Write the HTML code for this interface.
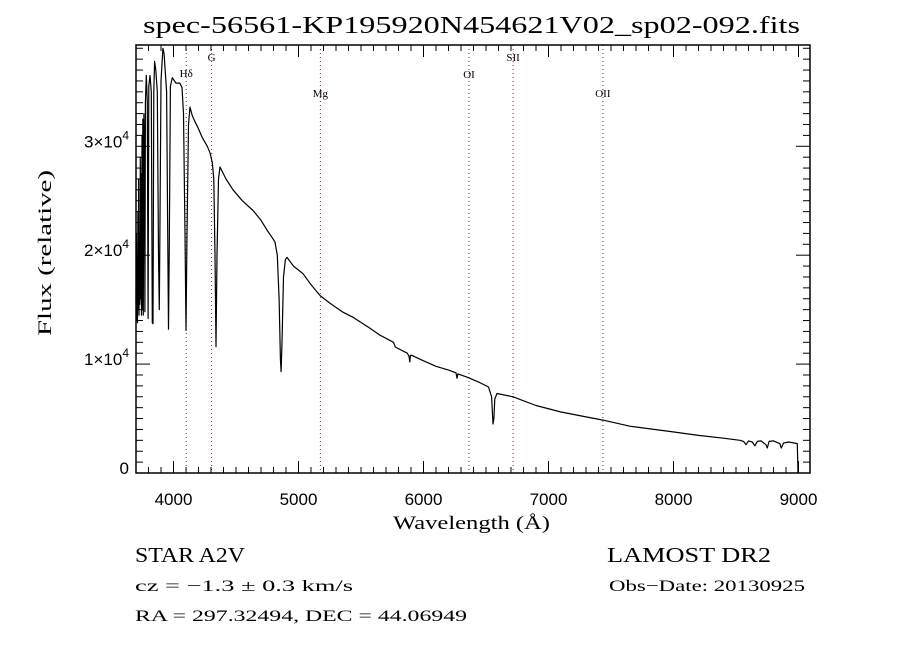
<!DOCTYPE html>
<html><head><meta charset="utf-8"><style>
html,body{margin:0;padding:0;background:#fff;}
svg{display:block;}
text{fill:#000;}
</style></head><body>
<svg id="chart" width="900" height="650" viewBox="0 0 900 650" xmlns="http://www.w3.org/2000/svg">
<rect x="0" y="0" width="900" height="650" fill="#fff"/>
<text x="143" y="33" font-family="Liberation Serif, serif" font-size="24" textLength="657" lengthAdjust="spacingAndGlyphs">spec-56561-KP195920N454621V02_sp02-092.fits</text>
<g id="lines"></g>
<g id="ticks"></g>
<path id="spec" fill="none" stroke="#000" stroke-width="1.2" stroke-linejoin="round"/>
<rect x="136" y="45" width="674" height="428" fill="none" stroke="#000" stroke-width="1.5"/>
<g id="xlab"></g>
<g id="ylab"></g>
<text x="393" y="529" font-family="Liberation Serif, serif" font-size="19" textLength="157" lengthAdjust="spacingAndGlyphs">Wavelength (Å)</text>
<text transform="translate(51,336) rotate(-90)" font-family="Liberation Serif, serif" font-size="19" textLength="166" lengthAdjust="spacingAndGlyphs">Flux (relative)</text>
<text x="135" y="562" font-family="Liberation Serif, serif" font-size="21" textLength="110" lengthAdjust="spacingAndGlyphs">STAR    A2V</text>
<text x="607" y="562" font-family="Liberation Serif, serif" font-size="21" textLength="164" lengthAdjust="spacingAndGlyphs">LAMOST DR2</text>
<text x="135" y="591" font-family="Liberation Serif, serif" font-size="16" textLength="218" lengthAdjust="spacingAndGlyphs">cz = −1.3 ± 0.3 km/s</text>
<text x="609" y="591" font-family="Liberation Serif, serif" font-size="16" textLength="196" lengthAdjust="spacingAndGlyphs">Obs−Date: 20130925</text>
<text x="135" y="621" font-family="Liberation Serif, serif" font-size="16" textLength="332" lengthAdjust="spacingAndGlyphs">RA = 297.32494, DEC =  44.06949</text>
</svg>
<script>
const wavelengths=[3700,3703,3706,3709,3712,3715,3718,3721,3724,3727,3730,3734,3737,3740,3744,3748,3750,3754,3758,3763,3768,3771,3775,3782,3790,3797,3802,3812,3822,3830,3836,3842,3849,3858,3870,3880,3886,3891,3900,3915,3925,3945,3955,3960,3966,3975,3990,4020,4050,4068,4080,4092,4100,4108,4120,4132,4150,4170,4196,4230,4270,4292,4310,4322,4332,4340,4348,4360,4372,4420,4476,4550,4636,4700,4748,4790,4812,4830,4845,4855,4861,4868,4880,4895,4908,4960,5036,5100,5172,5250,5350,5436,5572,5652,5760,5775,5870,5885,5890,5895,5908,6000,6100,6200,6260,6268,6275,6350,6450,6520,6545,6556,6563,6570,6588,6716,6900,7100,7300,7436,7650,7996,8200,8400,8500,8532,8560,8580,8600,8630,8650,8670,8700,8740,8750,8765,8800,8850,8862,8880,8920,8970,8990,8996];
const fluxes=[15500,22000,14000,20000,13800,24000,15000,27000,14500,22000,15500,29000,16000,27500,14500,31000,15000,32500,14500,33000,30000,14800,34000,36500,34000,14200,35500,36500,35000,13800,13700,35000,37800,37000,35000,20000,15000,22000,36000,39000,38500,35000,20000,13200,21000,35500,36300,35800,35800,35400,33000,22000,13100,22000,32000,33600,32800,32300,31700,30800,30000,29400,28500,27000,20000,11600,20000,27000,28100,27000,26000,25000,24100,23200,22300,21600,21200,20000,16000,10500,9300,12000,18000,19600,19800,19000,18300,17300,16300,15600,14800,14300,13300,12650,12000,11560,11000,10700,10200,10800,10800,10300,9800,9450,9200,8700,9100,8800,8300,7900,7000,4500,5000,6800,7300,7000,6200,5600,5150,4860,4300,3770,3450,3200,3050,3000,2900,2600,2950,2850,2500,2900,2950,2600,2300,2900,2950,2700,2300,2750,2850,2750,2700,0];
const xTickLabels=["4000","5000","6000","7000","8000","9000"];
const xTickValues=[4000,5000,6000,7000,8000,9000];
const yTickValues=[0,10000,20000,30000];
const yTickMantissa=["0","1","2","3"];
const lineNames=["Hδ","G","Mg","OI","SII","OII"];
const lineWaves=[4102,4305,5175,6364,6717,7435];
const X0=3700,X1=9092,Y0=0,Y1=39300;
const PL=136,PR=810,PT=45,PB=473;
function sx(w){return PL+(w-X0)/(X1-X0)*(PR-PL);}
function sy(f){return PB-(f-Y0)/(Y1-Y0)*(PB-PT);}
const NS="http://www.w3.org/2000/svg";
function mk(tag,parent){const e=document.createElementNS(NS,tag);parent.appendChild(e);return e;}
let d="";
for(let i=0;i<wavelengths.length;i++){d+=(i?"L":"M")+sx(wavelengths[i]).toFixed(1)+" "+Math.min(PB,Math.max(PT,sy(fluxes[i]))).toFixed(1);}
d+="L"+sx(wavelengths[wavelengths.length-1]).toFixed(1)+" "+PB;
document.getElementById("spec").setAttribute("d",d);
const labY=[77,61,97,78,61,97];
const gl=document.getElementById("lines");
lineWaves.forEach((w,i)=>{
 const l=mk("line",gl);
 
 
 l.setAttribute("x1",sx(w));l.setAttribute("x2",sx(w));l.setAttribute("y1",PT);l.setAttribute("y2",PB);
 l.setAttribute("stroke","#8b2020");l.setAttribute("stroke-width","1");l.setAttribute("stroke-dasharray","1,3");
 const t=mk("text",gl);
 
 
 t.setAttribute("x",sx(w));t.setAttribute("y",labY[i]);t.setAttribute("text-anchor","middle");
 t.setAttribute("font-family","Liberation Serif, serif");t.setAttribute("font-size","11");
 t.textContent=lineNames[i];
});
const gt=document.getElementById("ticks");
function tk(x1,y1,x2,y2){const l=mk("line",gt);
 
 
 l.setAttribute("x1",x1);l.setAttribute("y1",y1);l.setAttribute("x2",x2);l.setAttribute("y2",y2);l.setAttribute("stroke","#000");l.setAttribute("stroke-width","1");}
for(let w=3700;w<=X1;w+=100){const maj=w%1000===0;const L=maj?12:6;const x=sx(w);tk(x,PB,x,PB-L);tk(x,PT,x,PT+L);}
for(let f=0;f<=Y1;f+=1000){const maj=f%10000===0;const L=maj?14:7;const y=sy(f);tk(PL,y,PL+L,y);tk(PR,y,PR-L,y);}
const gx=document.getElementById("xlab");
xTickValues.forEach((v,i)=>{const t=mk("text",gx);
 
 
 t.setAttribute("x",sx(v));t.setAttribute("y",505);t.setAttribute("text-anchor","middle");
 t.setAttribute("font-family","Liberation Sans, sans-serif");t.setAttribute("font-size","17");t.textContent=xTickLabels[i];});
const gy=document.getElementById("ylab");
yTickValues.forEach((v,i)=>{const t=mk("text",gy);
 
 
 t.setAttribute("x",129);t.setAttribute("y",sy(v)+1);t.setAttribute("text-anchor","end");
 t.setAttribute("font-family","Liberation Sans, sans-serif");t.setAttribute("font-size","17");
 if(v===0){t.textContent="0";}else{
  t.textContent=yTickMantissa[i]+"×10";
  const s=mk("tspan",t);s.setAttribute("dy","-8");s.setAttribute("font-size","12");s.textContent="4";}
});
</script>
</body></html>
